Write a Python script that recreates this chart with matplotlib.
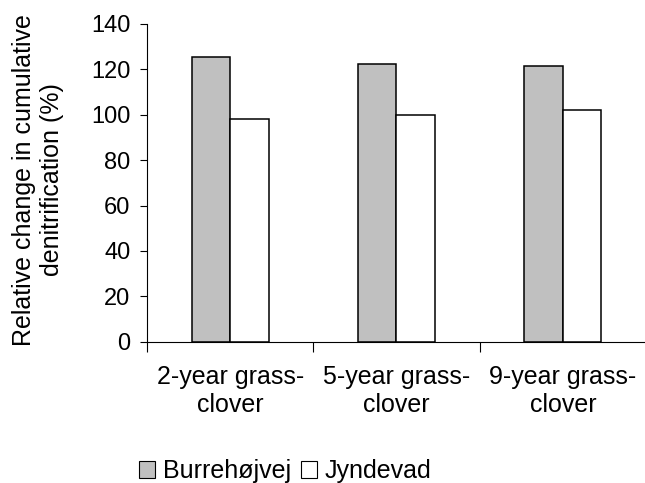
import matplotlib
matplotlib.use("Agg")
import matplotlib.pyplot as plt
from matplotlib.patches import Patch
import numpy as np

categories = ["2-year grass-\nclover", "5-year grass-\nclover", "9-year grass-\nclover"]
series_names = ["Burrehøjvej", "Jyndevad"]
burrehojvej = [125.3, 122.2, 121.5]
jyndevad = [98.0, 100.0, 102.0]
yticks = [0, 20, 40, 60, 80, 100, 120, 140]

plt.rcParams['font.family'] = ['Liberation Sans', 'DejaVu Sans']
FS_TICK = 17
FS = 18

fig = plt.figure(figsize=(6.45, 4.83), dpi=100)
ax = fig.add_axes([147/645, 1-341.7/483, (646-147)/645, (341.7-24)/483])

x = np.arange(len(categories))
w = 0.231
ax.bar(x - w/2, burrehojvej, w, color='#c0c0c0', edgecolor='black', linewidth=1.1, zorder=2)
ax.bar(x + w/2, jyndevad, w, color='white', edgecolor='black', linewidth=1.1, zorder=2)

ax.set_xlim(-0.5, 2.5)
ax.set_ylim(0, 140)
ax.set_yticks(yticks)
ax.set_yticklabels([str(t) for t in yticks], fontsize=FS_TICK)
ax.tick_params(axis='y', direction='out', length=5, width=0.8, pad=7)

ax.set_xticks([-0.5, 0.5, 1.5, 2.5])
ax.set_xticklabels([])
ax.tick_params(axis='x', which='major', direction='out', length=7, width=0.8)
ax.set_xticks(x, minor=True)
ax.set_xticklabels(categories, minor=True, fontsize=FS)
for lab in ax.get_xticklabels(minor=True):
    lab.set_linespacing(1.18)
ax.tick_params(axis='x', which='minor', length=0, pad=17)

for s in ['top', 'right']:
    ax.spines[s].set_visible(False)
for s in ['left', 'bottom']:
    ax.spines[s].set_linewidth(0.8)

fig.text(38/645, 1-180/483, "Relative change in cumulative\ndenitrification (%)",
         rotation=90, ha='center', va='center', fontsize=FS, multialignment='center',
         linespacing=1.22)

handles = [Patch(facecolor='#c0c0c0', edgecolor='black', linewidth=0.8),
           Patch(facecolor='white', edgecolor='black', linewidth=0.8)]
fig.legend(handles, series_names, loc='center', bbox_to_anchor=(285/645, 1-471/483),
           ncol=2, frameon=False, fontsize=FS, handlelength=0.65, handleheight=0.65,
           handletextpad=0.3, columnspacing=0.4, borderpad=0)

fig.savefig("out.png", dpi=100)
